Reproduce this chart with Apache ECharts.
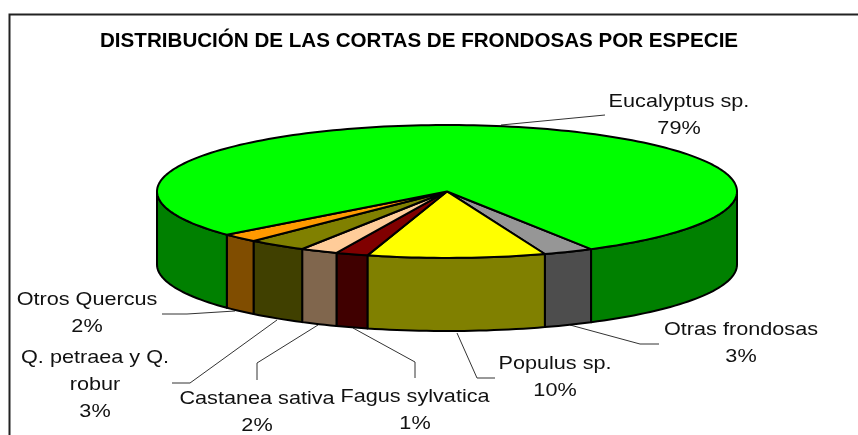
<!DOCTYPE html>
<html>
<head>
<meta charset="utf-8">
<style>html,body{margin:0;padding:0;background:#fff}#c{width:858px;height:435px}</style>
<script src="https://cdn.jsdelivr.net/npm/echarts@6/dist/echarts.min.js"></script>
</head>
<body>
<div id="c"></div>
<script>
// Data. Clockwise from the front-right edge.
const categories = ['Otras frondosas','Populus sp.','Fagus sylvatica','Castanea sativa','Q. petraea y Q.\nrobur','Otros Quercus','Eucalyptus sp.'];
const percentLabels = ['3%','10%','1%','2%','3%','2%','79%'];
const wedgeShares = [2.8, 9.9, 1.8, 2.1, 3.3, 2.1, 78.0];
const topColors = ['#969696','#FFFF00','#800000','#FFCC99','#808000','#FF9900','#00FF00'];
const wallColors = ['#4D4D4D','#808000','#400000','#80664D','#404000','#804D00','#008000'];
const titleText = 'DISTRIBUCIÓN DE LAS CORTAS DE FRONDOSAS POR ESPECIE';

const START_ANGLE = 150.2, WALL_DEPTH = 1.1;
let cum = START_ANGLE;
const rows = wedgeShares.map((s, i) => { const a = cum; cum += s * 3.6; return [a, cum, i]; });

function arc(api, a, b, dy) {
  const pts = [], n = Math.max(2, Math.ceil((b - a) / 1.5));
  for (let k = 0; k <= n; k++) {
    const t = (a + (b - a) * k / n) * Math.PI / 180;
    pts.push(api.coord([Math.sin(t), Math.cos(t) + dy]));
  }
  return pts;
}
const edge = { stroke: '#000', lineWidth: 2, lineJoin: 'round' };
function renderItem(params, api) {
  const a = api.value(0), b = api.value(1), i = api.value(2), children = [];
  [[90, 270], [450, 630]].forEach(([f0, f1]) => {
    const s = Math.max(a, f0), e = Math.min(b, f1);
    if (e > s) {
      const pts = arc(api, s, e, 0).concat(arc(api, s, e, -WALL_DEPTH).reverse());
      children.push({ type: 'polygon', shape: { points: pts }, style: { fill: wallColors[i], ...edge } });
    }
  });
  const top = [api.coord([0, 0])].concat(arc(api, a, b, 0));
  children.push({ type: 'polygon', shape: { points: top }, style: { fill: topColors[i], ...edge } });
  return { type: 'group', children };
}

// Label and leader layout (pixels), in the order of the categories
const layout = [
  { x: 741, y: 329.5, leader: [[570,325],[640,344],[659,344]] },
  { x: 555, y: 363.5, leader: [[457,333],[477,378],[495,378]] },
  { x: 415, y: 396.5, leader: [[353,328],[415,362],[415,378]] },
  { x: 257, y: 398.5, leader: [[318,325],[257,363],[257,380]] },
  { x: 95,  y: 357.5, leader: [[277,320],[190,383],[172,383]] },
  { x: 87,  y: 299.5, leader: [[235,311],[187,314],[162,314]] },
  { x: 679, y: 101.5, leader: [[501,125],[605,115]] }
];
const graphics = [
  { type: 'polyline', shape: { points: [[9.5,435],[9.5,14.5],[858,14.5]] }, style: { stroke: '#222', lineWidth: 2, fill: null } }
];
layout.forEach((l, i) => {
  graphics.push({ type: 'polyline', shape: { points: l.leader }, style: { stroke: '#333', lineWidth: 1, fill: null } });
  categories[i].split('\n').concat(percentLabels[i]).forEach((t, k) => {
    graphics.push({ type: 'text', x: l.x, y: l.y + k * 27, scaleX: 1.17,
      style: { text: t, fill: '#111', font: '18.5px "Liberation Sans", Arial, sans-serif', textAlign: 'center', textVerticalAlign: 'middle' } });
  });
});

const chart = echarts.init(document.getElementById('c'), null, { renderer: 'canvas' });
chart.setOption({
  animation: false,
  backgroundColor: '#fff',
  title: { text: titleText, left: 100, top: 31, padding: 0,
    textStyle: { fontFamily: '"Liberation Sans", Arial, sans-serif', fontWeight: 'bold', fontSize: 20.6, color: '#000' } },
  grid: { left: 157, width: 580, top: 125, height: 206 },
  xAxis: { type: 'value', min: -1, max: 1, show: false },
  yAxis: { type: 'value', min: -1 - WALL_DEPTH, max: 1, show: false },
  graphic: graphics,
  series: [{ type: 'custom', coordinateSystem: 'cartesian2d', clip: false, data: rows, renderItem,
    encode: { x: 0, y: 1 }, silent: true }]
});
</script>
</body>
</html>
